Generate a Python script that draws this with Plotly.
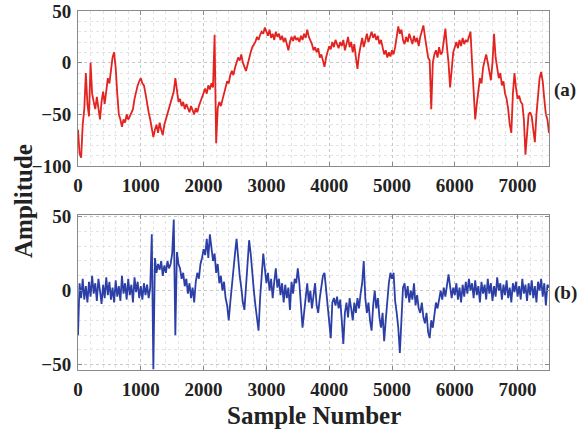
import plotly.graph_objects as go

STEP = 25
sample_index = list(range(0, 7501, STEP))

signal_a = [
    -65, -88, -92, -60, -45, -10, -40, -52, 0, -30, -38, -45, -33, -42, -55, -38, -28, -40, -25, -15,
    -20, -5, 5, 10, -5, -30, -50, -55, -62, -55, -58, -50, -55, -52, -48, -45, -35, -28, -22, -18,
    -15, -20, -22, -30, -40, -48, -55, -62, -72, -65, -60, -68, -58, -65, -70, -60, -55, -50, -45, -40,
    -35, -28, -15, -30, -38, -35, -42, -38, -45, -40, -44, -48, -42, -46, -50, -44, -48, -42, -38, -32,
    -28, -25, -30, -22, -26, -20, -24, 27, -78, -44, -38, -42, -36, -30, -25, -18, -20, -12, -8, -12,
    -5, 0, 5, 2, 8, 0, -5, -8, -2, 5, 10, 15, 18, 20, 25, 22, 27, 30, 28, 34,
    30, 26, 32, 24, 28, 22, 30, 25, 28, 22, 26, 20, 24, 18, 12, 20, 25, 21, 26, 22,
    24, 20, 26, 22, 28, 24, 32, 25, 22, 18, 12, 15, 10, 14, 5, 8, 2, -4, 5, 12,
    16, 13, 20, 15, 22, 18, 14, 20, 16, 22, 12, 18, 25, 15, 20, 10, 18, 5, -6, 8,
    18, 24, 15, 22, 28, 20, 25, 30, 24, 28, 22, 26, 18, 22, 15, 8, 12, 5, 10, 6,
    12, 8, 15, 25, 35, 28, 32, 22, 18, 25, 20, 28, 22, 18, 26, 20, 24, 16, 25, 30,
    36, 25, 15, 5, 2, -45, 0, 8, 12, 5, 15, 8, 10, 25, 33, 15, 0, -24, -5, 10,
    15, 20, 14, 22, 16, 24, 18, 22, 20, 26, 30, 0, -35, -55, -40, -25, -15, -20, -5, 2,
    8, 0, -10, -17, 0, 28, 5, -8, -15, -10, -22, -18, -30, -35, -45, -60, -68, -30, -10, -25,
    -35, -32, -38, -40, -55, -89, -70, -50, -48, -52, -65, -77, -50, -30, -15, -9, -18, -35, -50, -55,
    -68,
]

signal_b = [
    -30, 5, -5, 8, -6, 3, -8, 6, -4, 10, -2, 5, -7, 8, 0, -9, 4, -5, 9, -3,
    6, -6, 2, -8, 7, -4, 3, -7, 10, -2, 5, -6, 8, -3, 4, -8, 9, -1, 6, -5,
    3, -6, 5, -3, 4, -5, 2, 38, -53, 22, 12, 18, 14, 20, 10, 17, 12, 20, 15, 18,
    25, 48, -30, 26, 18, 15, 8, 12, 3, 8, -2, 5, -5, 2, -8, 6, 12, 8, 18, 22,
    28, 24, 35, 22, 38, 28, 20, 25, 12, 18, 5, 10, 0, 6, -5, -10, -20, -8, 5, 15,
    25, 35, 20, 10, 2, -8, -13, 5, 20, 34, 25, 10, 0, -10, -18, -27, -5, 12, 25, 15,
    5, 12, 0, 8, -5, 6, 15, 2, 8, -3, 5, -8, 4, -5, 2, -13, 6, -2, 8, 5,
    15, 5, -10, -25, -15, -5, 5, -8, 0, -12, -3, 5, -10, -15, -5, 2, 10, 12, 0, -12,
    -20, -32, -8, -5, -10, -4, -12, -6, -20, -36, -15, -8, -18, -5, -12, -20, -8, -15, -5, -12,
    -2, 5, 20, -5, -15, -8, -20, -27, -10, 0, -12, -5, -18, -25, -15, -34, -20, -5, 5, 12,
    8, 12, -7, -15, -25, -42, -20, 2, 5, -5, 3, -8, 0, -6, 5, -10, -3, -12, -15, -8,
    -18, -22, -15, -28, -32, -20, -25, -15, -8, -12, -5, 0, -6, 2, -4, 5, 11, 3, -5, 2,
    -3, 5, -6, 2, -8, 4, -4, 6, -2, 8, 0, 5, -5, 7, -3, 3, -8, 6, -2, 4,
    -6, 8, -2, 5, -7, 3, -4, 9, 0, 5, -6, 4, -3, 7, -5, 2, -8, 5, -1, 6,
    -4, 3, -6, 8, -2, 4, -7, 5, -3, 7, -5, 3, -8, 6, 0, 8, -4, 5, -10, 4,
    2,
]

x_ticks = [0, 1000, 2000, 3000, 4000, 5000, 6000, 7000]
y_ticks_a = [-100, -50, 0, 50]
y_ticks_b = [-50, 0, 50]

W, H = 581, 436


def fx(px):
    return px / W


def fy(py):
    return 1 - py / H


dom_x = [fx(78), fx(549)]
dom_a = [fy(166), fy(11)]
dom_b = [fy(370), fy(215)]

tick_font = dict(family="Liberation Serif", size=19, color="#222", weight="bold")
grid_major = "#c8c8c8"
grid_minor = "#e4e4e4"

fig = go.Figure()
fig.add_trace(go.Scatter(x=sample_index, y=signal_a, mode="lines",
                         line=dict(color="#e2231f", width=1.8), xaxis="x", yaxis="y",
                         showlegend=False))
fig.add_trace(go.Scatter(x=sample_index, y=signal_b, mode="lines",
                         line=dict(color="#2c3fa6", width=1.8), xaxis="x2", yaxis="y2",
                         showlegend=False))


def xax(anchor):
    return dict(domain=dom_x, anchor=anchor, range=[0, 7500], tickvals=x_ticks,
                showline=True, linecolor="#8a8a8a", linewidth=1, mirror="ticks",
                ticks="inside", ticklen=4, tickcolor="#8a8a8a",
                showgrid=True, gridcolor=grid_major, griddash="dot", gridwidth=1,
                minor=dict(dtick=200, showgrid=True, gridcolor=grid_minor, griddash="dot",
                           ticks=""),
                zeroline=False, tickfont=tick_font, ticklabelstandoff=2,
                ticklabeloverflow="allow", automargin=False)


def yax(anchor, rng, tv):
    return dict(domain=dom_a if anchor == "x" else dom_b, anchor=anchor, range=rng,
                tickvals=tv, showline=True, linecolor="#8a8a8a", linewidth=1, mirror="ticks",
                ticks="inside", ticklen=4, tickcolor="#8a8a8a",
                showgrid=True, gridcolor=grid_major, griddash="dot", gridwidth=1,
                minor=dict(dtick=10, showgrid=True, gridcolor=grid_minor, griddash="dot",
                           ticks=""),
                zeroline=False, tickfont=tick_font, ticklabelstandoff=2,
                ticklabeloverflow="allow", automargin=False)


label_font = dict(family="Liberation Serif", size=25, color="#222", weight="bold")
panel_font = dict(family="Liberation Serif", size=19, color="#222", weight="bold")

fig.update_layout(
    template="none",
    width=W, height=H,
    margin=dict(l=0, r=0, t=0, b=0, pad=0),
    paper_bgcolor="white", plot_bgcolor="white",
    hovermode=False,
    xaxis=xax("y"), yaxis=yax("x", [-100, 50], y_ticks_a),
    xaxis2=xax("y2"), yaxis2=yax("x2", [-53.5, 51], y_ticks_b),
    annotations=[
        dict(text="Amplitude", x=fx(23), y=fy(201), xref="paper", yref="paper",
             textangle=-90, showarrow=False, xanchor="center", yanchor="middle",
             font=label_font),
        dict(text="Sample Number", x=fx(314), y=fy(415), xref="paper", yref="paper",
             showarrow=False, xanchor="center", yanchor="middle", font=label_font),
        dict(text="(a)", x=fx(565), y=fy(90), xref="paper", yref="paper",
             showarrow=False, xanchor="center", yanchor="middle", font=panel_font),
        dict(text="(b)", x=fx(565), y=fy(293), xref="paper", yref="paper",
             showarrow=False, xanchor="center", yanchor="middle", font=panel_font),
    ],
)

fig.write_html("out.html",
               config={"displayModeBar": False, "staticPlot": True},
               post_script="document.body.style.margin='0';document.body.style.overflow='hidden';")
